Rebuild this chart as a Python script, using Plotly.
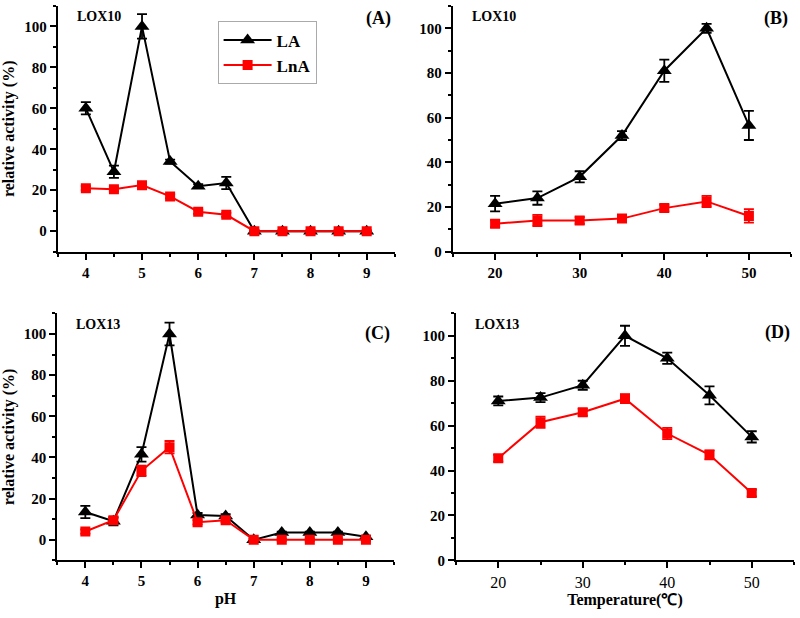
import plotly.graph_objects as go

# ---------------- data ----------------
ph = [4, 4.5, 5, 5.5, 6, 6.5, 7, 7.5, 8, 8.5, 9]
temp = [20, 25, 30, 35, 40, 45, 50]

# (A) LOX10 pH
a_la = [60, 29, 100, 34, 22, 23.5, 0, 0, 0, 0, 0]
a_la_err = [3, 3, 6, 1, 1, 3, 0.5, 0, 0, 0, 0]
a_lna = [21, 20.5, 22.5, 17, 9.5, 8, 0, 0, 0, 0, 0]
a_lna_err = [1, 1, 1, 1, 1, 1, 0.5, 0.5, 0.5, 0.5, 0.5]

# (B) LOX10 temperature
b_la = [21.5, 24, 33.5, 52, 81, 100, 56.5]
b_la_err = [3.5, 3, 2.5, 2, 5, 2, 6.5]
b_lna = [12.5, 14, 14, 14.8, 19.5, 22.5, 16]
b_lna_err = [1.5, 2.5, 1.5, 1.5, 1.5, 2.5, 3]

# (C) LOX13 pH
c_la = [13.5, 9, 41.5, 100, 12, 11.5, 0, 3.5, 3.5, 3.5, 1.5]
c_la_err = [3, 2, 3.5, 5.5, 1, 1, 0.5, 0.5, 0.5, 0.5, 0.5]
c_lna = [4, 9.5, 33.5, 45, 8.5, 9.5, 0, 0, 0, 0, 0]
c_lna_err = [1, 1, 2.5, 3, 1, 1, 0.5, 0.5, 0.5, 0.5, 0.5]

# (D) LOX13 temperature
d_la = [71, 72.5, 78, 100, 90, 73.5, 55]
d_la_err = [2, 2, 2, 4.5, 2.5, 4, 2.5]
d_lna = [45.5, 61.5, 66, 72, 56.5, 47, 30]
d_lna_err = [1.5, 2.5, 1.5, 2, 2.5, 2, 1.5]

panel_labels = ["(A)", "(B)", "(C)", "(D)"]
enzyme_labels = ["LOX10", "LOX10", "LOX13", "LOX13"]
series_names = ["LA", "LnA"]

# ---------------- styling ----------------
FONT = "Liberation Serif, Times New Roman, serif"
BLACK = "#000000"
RED = "#ff0000"

fig = go.Figure()

panels = [
    (ph, a_la, a_la_err, a_lna, a_lna_err, "x", "y"),
    (temp, b_la, b_la_err, b_lna, b_lna_err, "x2", "y2"),
    (ph, c_la, c_la_err, c_lna, c_lna_err, "x3", "y3"),
    (temp, d_la, d_la_err, d_lna, d_lna_err, "x4", "y4"),
]

for i, (xs, la, la_e, lna, lna_e, xa, ya) in enumerate(panels):
    fig.add_trace(go.Scatter(
        x=xs, y=la, name=series_names[0], mode="lines+markers",
        line=dict(color=BLACK, width=2),
        marker=dict(symbol="triangle-up", size=13, color=BLACK),
        error_y=dict(type="data", array=la_e, color=BLACK, thickness=1.8, width=5),
        xaxis=xa, yaxis=ya, showlegend=(i == 0), legendgroup="LA"))
    fig.add_trace(go.Scatter(
        x=xs, y=lna, name=series_names[1], mode="lines+markers",
        line=dict(color=RED, width=2),
        marker=dict(symbol="square", size=10, color=RED),
        error_y=dict(type="data", array=lna_e, color=RED, thickness=1.8, width=5),
        xaxis=xa, yaxis=ya, showlegend=(i == 0), legendgroup="LnA"))

bold_tick = dict(family=FONT, size=15, color=BLACK, weight="bold")
normal_tick = dict(family=FONT, size=16, color=BLACK)
title_font = dict(family=FONT, size=16, color=BLACK, weight="bold")

axis_common = dict(
    showline=True, linewidth=2, linecolor=BLACK, mirror=False,
    ticks="outside", ticklen=6, tickwidth=2, tickcolor=BLACK,
    showgrid=False, zeroline=False,
)

# domains (paper fractions)
xdom = {"A": [0.0722, 0.4935], "B": [0.566, 0.989], "C": [0.0716, 0.4925], "D": [0.570, 0.9925]}
ydom_top = [0.5874, 0.9903]
ydom_bot = [0.0814, 0.4862]

fig.update_layout(
    xaxis=dict(axis_common, domain=xdom["A"], anchor="y", range=[3.5, 9.5], dtick=1, tick0=4,
               minor=dict(ticks="outside", ticklen=3, tickwidth=2, dtick=0.5, tickcolor=BLACK),
               tickfont=bold_tick),
    yaxis=dict(axis_common, domain=ydom_top, anchor="x", range=[-10, 110], dtick=20, tick0=0,
               minor=dict(ticks="outside", ticklen=3, tickwidth=2, dtick=10, tickcolor=BLACK),
               tickfont=bold_tick,
               title=dict(text="relative activity (%)", font=title_font, standoff=6)),
    xaxis2=dict(axis_common, domain=xdom["B"], anchor="y2", range=[15, 55], dtick=10, tick0=20,
                minor=dict(ticks="outside", ticklen=3, tickwidth=2, dtick=5, tickcolor=BLACK),
                tickfont=bold_tick),
    yaxis2=dict(axis_common, domain=ydom_top, anchor="x2", range=[0, 110], dtick=20, tick0=0,
                minor=dict(ticks="outside", ticklen=3, tickwidth=2, dtick=10, tickcolor=BLACK),
                tickfont=bold_tick),
    xaxis3=dict(axis_common, domain=xdom["C"], anchor="y3", range=[3.5, 9.5], dtick=1, tick0=4,
                minor=dict(ticks="outside", ticklen=3, tickwidth=2, dtick=0.5, tickcolor=BLACK),
                tickfont=bold_tick,
                title=dict(text="pH", font=title_font, standoff=4)),
    yaxis3=dict(axis_common, domain=ydom_bot, anchor="x3", range=[-10, 110], dtick=20, tick0=0,
                minor=dict(ticks="outside", ticklen=3, tickwidth=2, dtick=10, tickcolor=BLACK),
                tickfont=bold_tick,
                title=dict(text="relative activity (%)", font=title_font, standoff=6)),
    xaxis4=dict(axis_common, domain=xdom["D"], anchor="y4", range=[15, 55], dtick=10, tick0=20,
                minor=dict(ticks="outside", ticklen=3, tickwidth=2, dtick=5, tickcolor=BLACK),
                tickfont=normal_tick,
                title=dict(text="Temperature(℃)", font=title_font, standoff=4)),
    yaxis4=dict(axis_common, domain=ydom_bot, anchor="x4", range=[0, 110], dtick=20, tick0=0,
                minor=dict(ticks="outside", ticklen=3, tickwidth=2, dtick=10, tickcolor=BLACK),
                tickfont=bold_tick),
)

# panel annotations
xrefs = ["x domain", "x2 domain", "x3 domain", "x4 domain"]
yrefs = ["y domain", "y2 domain", "y3 domain", "y4 domain"]
label_y = [1.0, 1.0, 0.97, 0.975]
for i in range(4):
    fig.add_annotation(text=enzyme_labels[i], xref=xrefs[i], yref=yrefs[i],
                       x=0.05, y=0.995, xanchor="left", yanchor="top", showarrow=False,
                       font=dict(family=FONT, size=14, color=BLACK, weight="bold"))
    fig.add_annotation(text=panel_labels[i], xref=xrefs[i], yref=yrefs[i],
                       x=0.995, y=label_y[i], xanchor="right", yanchor="top",
                       showarrow=False,
                       font=dict(family=FONT, size=18, color=BLACK, weight="bold"))

fig.update_layout(
    width=800, height=618,
    margin=dict(l=0, r=0, t=0, b=0),
    paper_bgcolor="white", plot_bgcolor="white",
    font=dict(family=FONT, color=BLACK),
    showlegend=True,
    legend=dict(x=0.272, y=0.965, xanchor="left", yanchor="top",
                bgcolor="white", bordercolor="#aaaaaa", borderwidth=1,
                font=dict(family=FONT, size=17, color=BLACK, weight="bold"),
                tracegroupgap=0, itemwidth=48),
)

fig.write_html("out.html", config={"displayModeBar": False},
               post_script="document.body.style.margin='0px';")
